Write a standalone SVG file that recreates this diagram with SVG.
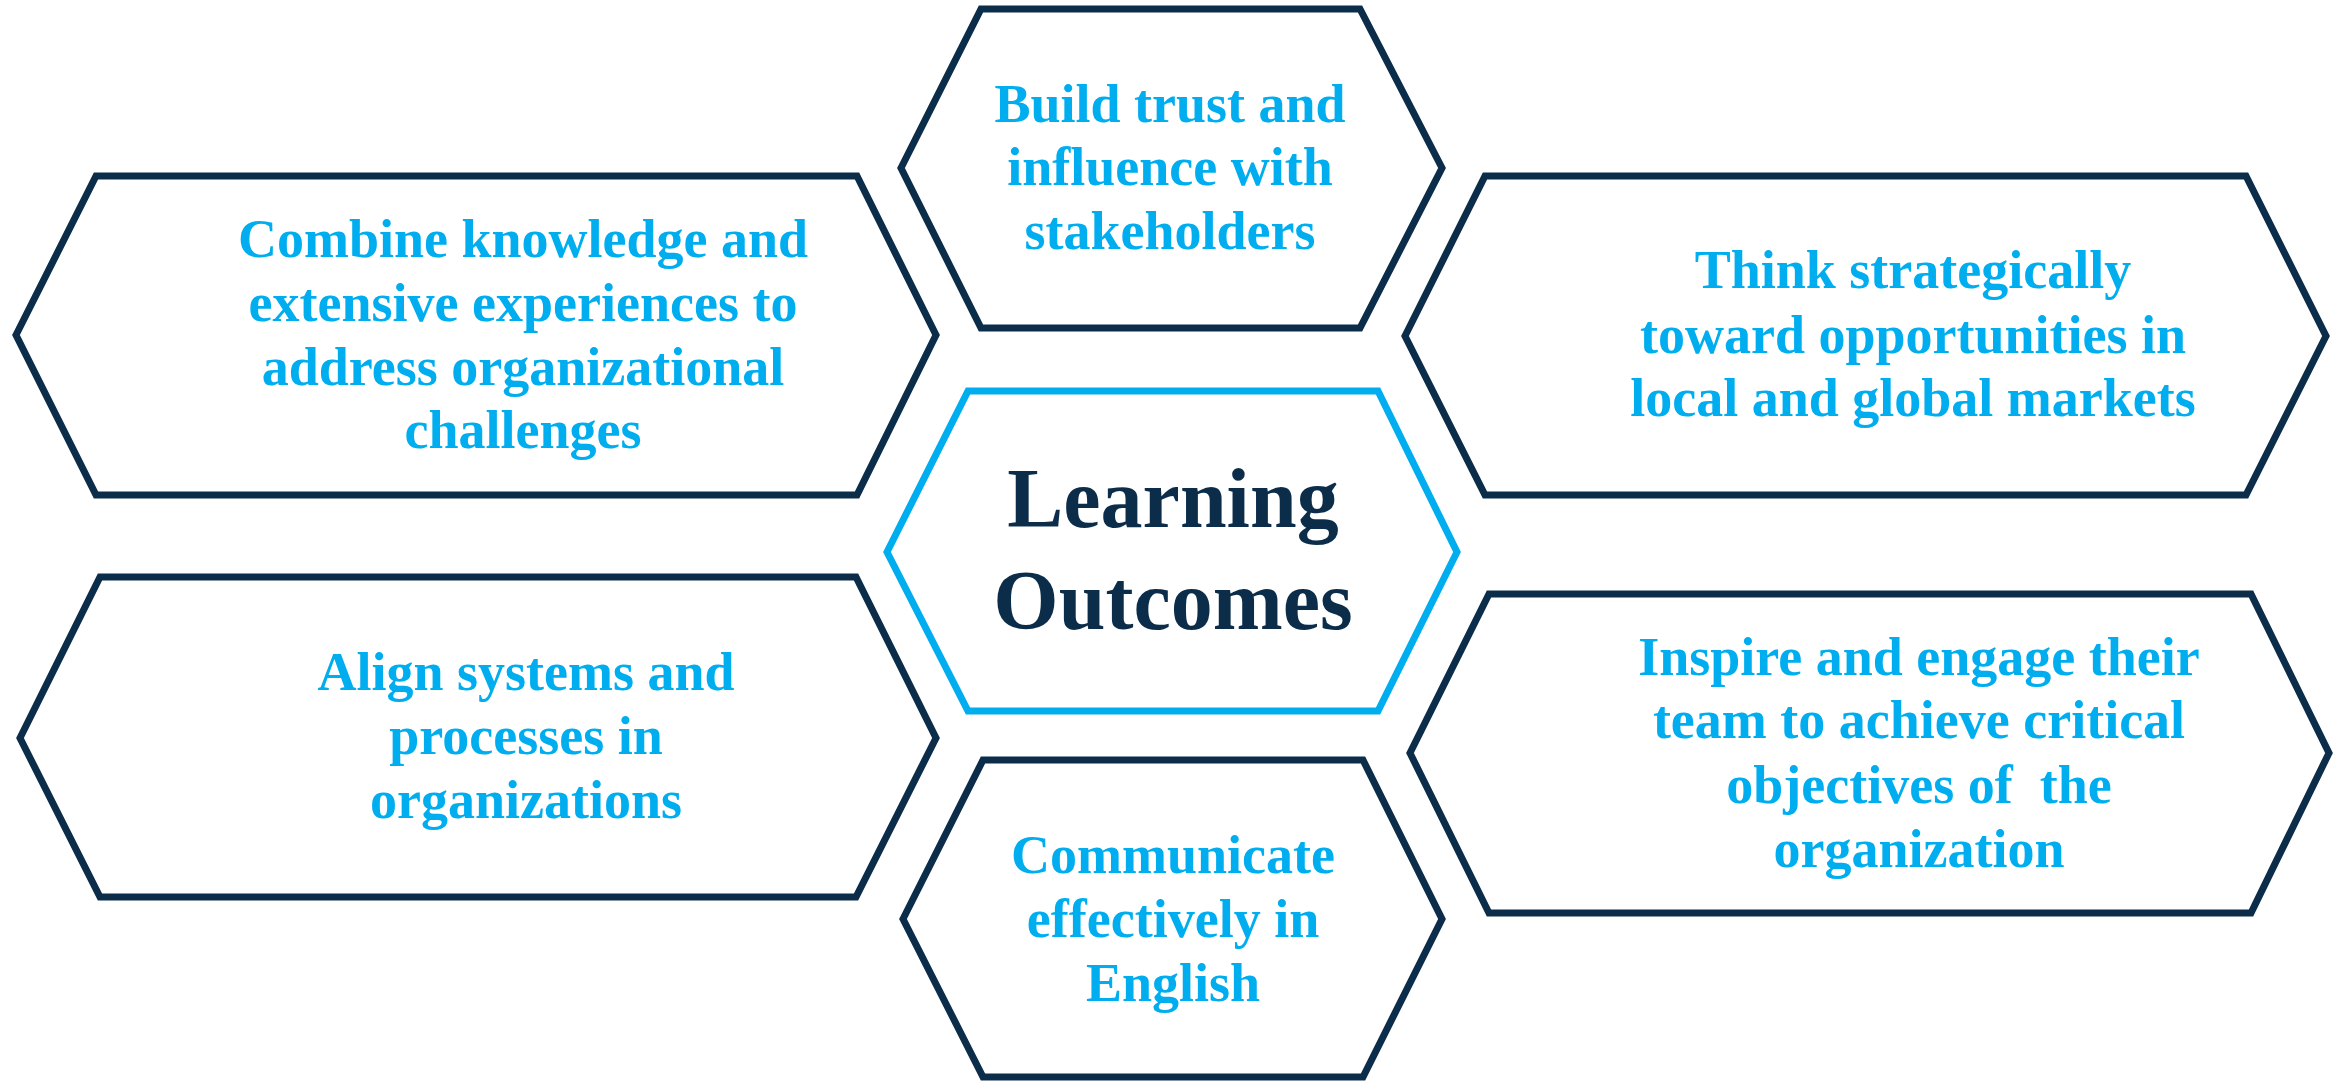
<svg xmlns="http://www.w3.org/2000/svg" width="2348" height="1081" viewBox="0 0 2348 1081">
<style>
.hex{fill:#ffffff;stroke:#0B2D4A;stroke-width:7;stroke-linejoin:miter}
.hexc{fill:#ffffff;stroke:#00AEEF;stroke-width:7;stroke-linejoin:miter}
.t{font-family:"Liberation Serif","Times New Roman",serif;font-weight:bold;font-size:54px;fill:#00AEEF;text-anchor:middle}
.tc{font-family:"Liberation Serif","Times New Roman",serif;font-weight:bold;font-size:84px;fill:#0B2D4A;text-anchor:middle}
</style>
<rect width="2348" height="1081" fill="#ffffff"/>
<g id="connectors"></g>
<g id="node-combine">
<polygon class="hex" points="16,335 96,176 857,176 936,335 857,495 96,495"/>
<text class="t" x="523" y="257">Combine knowledge and</text>
<text class="t" x="523" y="321">extensive experiences to</text>
<text class="t" x="523" y="385">address organizational</text>
<text class="t" x="523" y="448">challenges</text>
</g>
<g id="node-build">
<polygon class="hex" points="901,168 981,9 1360,9 1442,168 1360,328 981,328"/>
<text class="t" x="1170" y="122">Build trust and</text>
<text class="t" x="1170" y="185">influence with</text>
<text class="t" x="1170" y="249">stakeholders</text>
</g>
<g id="node-think">
<polygon class="hex" points="1405,336 1485,176 2246,176 2326,336 2246,495 1485,495"/>
<text class="t" x="1913" y="288">Think strategically</text>
<text class="t" x="1913" y="353">toward opportunities in</text>
<text class="t" x="1913" y="416">local and global markets</text>
</g>
<g id="node-align">
<polygon class="hex" points="20,738 100,577 856,577 936,738 856,897 100,897"/>
<text class="t" x="526" y="690">Align systems and</text>
<text class="t" x="526" y="754">processes in</text>
<text class="t" x="526" y="818">organizations</text>
</g>
<g id="node-center">
<polygon class="hexc" points="887,552 968,391 1378,391 1457,552 1378,711 968,711"/>
<text class="tc" x="1173" y="527">Learning</text>
<text class="tc" x="1173" y="629">Outcomes</text>
</g>
<g id="node-inspire">
<polygon class="hex" points="1410,753 1489,594 2251,594 2329,753 2251,913 1489,913"/>
<text class="t" x="1919" y="675">Inspire and engage their</text>
<text class="t" x="1919" y="738">team to achieve critical</text>
<text class="t" x="1919" y="803" style="white-space:pre">objectives of  the</text>
<text class="t" x="1919" y="867">organization</text>
</g>
<g id="node-communicate">
<polygon class="hex" points="903,919 983,760 1363,760 1442,919 1363,1077 983,1077"/>
<text class="t" x="1173" y="873">Communicate</text>
<text class="t" x="1173" y="937">effectively in</text>
<text class="t" x="1173" y="1001">English</text>
</g>
</svg>
